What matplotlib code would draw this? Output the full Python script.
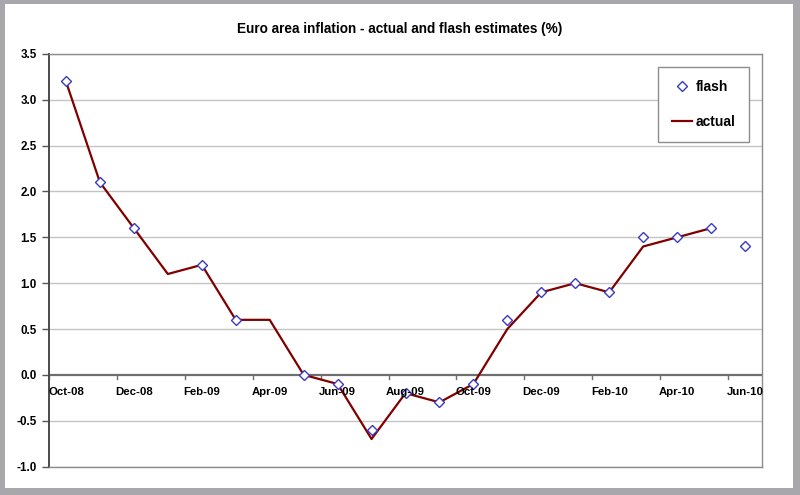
import matplotlib
matplotlib.use("Agg")
import matplotlib.pyplot as plt
import matplotlib.transforms as mtransforms
from matplotlib.patches import Rectangle
import numpy as np

plt.rcParams['font.family'] = ['Liberation Sans', 'DejaVu Sans']

months = ["Oct-08", "Nov-08", "Dec-08", "Jan-09", "Feb-09", "Mar-09", "Apr-09",
          "May-09", "Jun-09", "Jul-09", "Aug-09", "Sep-09", "Oct-09", "Nov-09",
          "Dec-09", "Jan-10", "Feb-10", "Mar-10", "Apr-10", "May-10", "Jun-10"]
flash = [3.2, 2.1, 1.6, None, 1.2, 0.6, None, 0.0, -0.1, -0.6, -0.2, -0.3, -0.1,
         0.6, 0.9, 1.0, 0.9, 1.5, 1.5, 1.6, 1.4]
actual = [3.2, 2.1, 1.6, 1.1, 1.2, 0.6, 0.6, 0.0, -0.1, -0.7, -0.2, -0.3, -0.1,
          0.5, 0.9, 1.0, 0.9, 1.4, 1.5, 1.6, None]
yticks = [-1.0, -0.5, 0.0, 0.5, 1.0, 1.5, 2.0, 2.5, 3.0, 3.5]
title = "Euro area inflation - actual and flash estimates (%)"

W, H = 800, 495
fig = plt.figure(figsize=(8, 4.95), dpi=100, facecolor='#a7a7ac')
bg = Rectangle((5 / W, 1 - 488 / H), (793 - 5) / W, (488 - 4) / H,
               transform=fig.transFigure, facecolor='white',
               edgecolor='none', zorder=-10)
fig.patches.append(bg)

ax = fig.add_axes([49 / W, 1 - 466.5 / H, (762 - 49) / W, (466.5 - 54) / H])
ax.set_zorder(5)
ax.set_facecolor('white')

x = np.arange(len(months))
fl = np.array([np.nan if v is None else v for v in flash], dtype=float)
ac = np.array([np.nan if v is None else v for v in actual], dtype=float)

ax.set_xlim(-0.5, len(months) - 0.5)
ax.set_ylim(-1.0, 3.5)

# gridlines
for yv in yticks:
    if yv != 0.0:
        ax.axhline(yv, color='#c4c4c4', lw=1.0, zorder=1)
ax.axhline(0.0, color='#6e6e6e', lw=1.6, zorder=2)

la, = ax.plot(x, ac, color='#800000', lw=1.6, zorder=3, label='actual')
lf, = ax.plot(x, fl, linestyle='none', marker='D', markersize=4.6,
              markerfacecolor='white', markeredgecolor='#3a3ac4',
              markeredgewidth=1.0, zorder=4, label='flash')

# x tick marks (category boundaries) along zero line
for b in np.arange(-0.5, len(months), 2):
    ax.plot([b, b], [0, -0.045], color='#6e6e6e', lw=1.0, zorder=2, clip_on=False)

# x labels along zero line
off = mtransforms.offset_copy(ax.transData, fig=fig, x=0, y=-17.5, units='dots')
for i in range(0, len(months), 2):
    ax.text(x[i], 0, months[i], transform=off, ha='center', va='center',
            fontsize=8.2, fontweight='bold', color='black', zorder=6)

ax.set_xticks([])
ax.set_yticks(yticks)
ax.set_yticklabels([f"{v:.1f}" for v in yticks], fontsize=8.4, fontweight='bold')
ax.tick_params(axis='y', length=5, width=1.0, color='#555555', pad=4)

for s in ['top', 'right', 'bottom']:
    ax.spines[s].set_color('#8c8c8c')
    ax.spines[s].set_linewidth(1.0)
ax.spines['left'].set_color('#4a4a4a')
ax.spines['left'].set_linewidth(1.4)

leg = ax.legend(handles=[lf, la], loc='upper right',
                bbox_to_anchor=((749 - 49) / 713, (466.5 - 67) / 412.5),
                prop={'size': 10, 'weight': 'bold'}, frameon=True, fancybox=False,
                edgecolor='#8c8c8c', framealpha=1, handlelength=1.5,
                handletextpad=0.25, labelspacing=1.5, borderpad=0.95,
                borderaxespad=0)
leg.get_frame().set_linewidth(1.0)

fig.text(400 / W, 1 - 29 / H, title, ha='center', va='center', fontsize=9.8,
         fontweight='bold')

fig.savefig('out.png', dpi=100, facecolor=fig.get_facecolor())
